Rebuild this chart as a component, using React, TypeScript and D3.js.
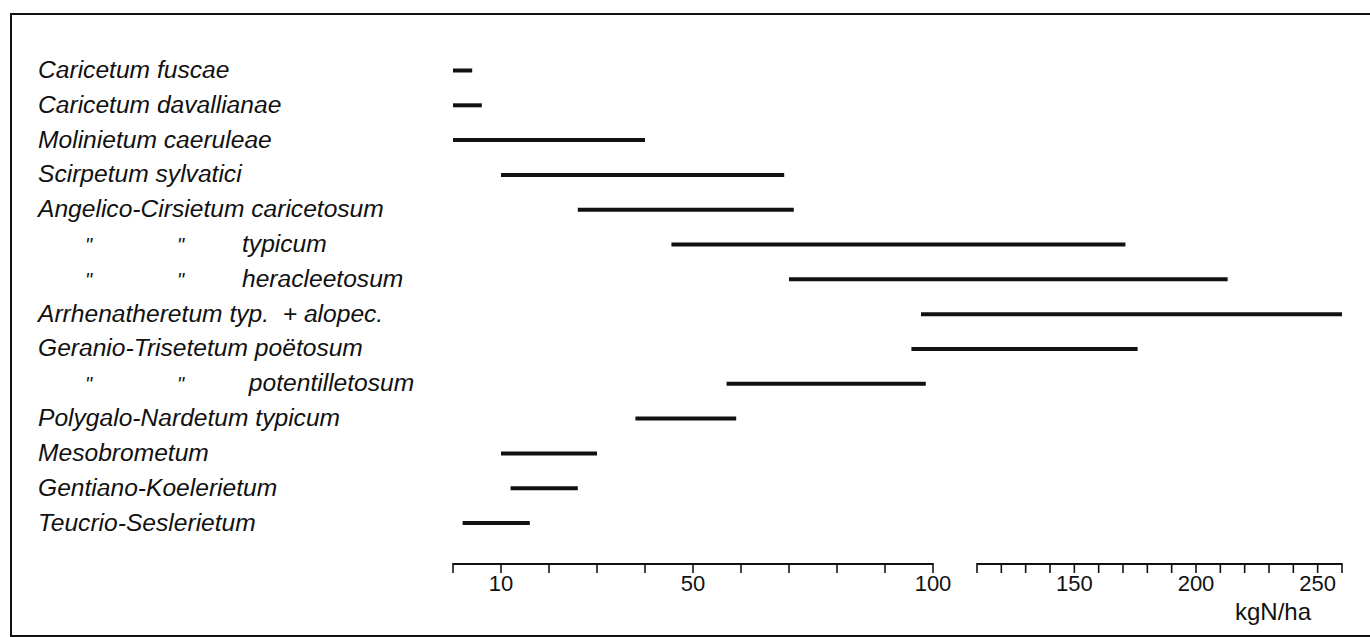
import React from "react";
import * as d3 from "d3";

const communities: string[] = [
  "Caricetum fuscae",
  "Caricetum davallianae",
  "Molinietum caeruleae",
  "Scirpetum sylvatici",
  "Angelico-Cirsietum caricetosum",
  "\"\t\"\ttypicum",
  "\"\t\"\theracleetosum",
  "Arrhenatheretum typ.  + alopec.",
  "Geranio-Trisetetum poëtosum",
  "\"\t\"\t potentilletosum",
  "Polygalo-Nardetum typicum",
  "Mesobrometum",
  "Gentiano-Koelerietum",
  "Teucrio-Seslerietum",
];
const nMin: number[] = [0, 0, 0, 10, 26, 45.5, 70, 97.5, 95.5, 57, 38, 10, 12, 2];
const nMax: number[] = [4, 6, 40, 69, 71, 171, 213, 260, 176, 98.5, 59, 30, 26, 16];

const ticksLow: number[] = [0, 10, 20, 30, 40, 50, 60, 70, 80, 90, 100];
const ticksHigh: number[] = [110, 120, 130, 140, 150, 160, 170, 180, 190, 200, 210, 220, 230, 240, 250, 260];
const tickLabels: number[] = [10, 50, 100, 150, 200, 250];
const unitLabel = "kgN/ha";

export default function App() {
  const W = 1370, H = 637;
  const x = d3.scaleLinear().domain([0, 100, 110, 260]).range([453, 933, 977, 1342]);
  const y = d3.scalePoint<number>().domain(d3.range(communities.length)).range([70.5, 523]);
  const axisY = 564;
  const font = "'Liberation Sans', Arial, sans-serif";
  const partX = [85, 177, 242];

  return (
    <svg width={W} height={H} style={{ position: "absolute", left: 0, top: 0, display: "block", background: "#fff" }}>
      <rect x={0} y={0} width={W} height={H} fill="#fff" />
      {/* frame */}
      <path d={`M${W},14 L11,14 L11,636 L${W},636`} fill="none" stroke="#111" strokeWidth={2} />
      {/* labels */}
      <g fontFamily={font} fontStyle="italic" fontSize={24.6} fill="#111">
        {communities.map((name, i) => {
          const yy = (y(i) as number) + 7.5;
          if (name.includes("\t")) {
            const parts = name.split("\t");
            return (
              <g key={i}>
                {parts.map((p, j) => (
                  <text key={j} x={partX[j]} y={yy} xmlSpace="preserve" style={{ whiteSpace: "pre" }} fontSize={j < 2 ? 20 : 24.6}>
                    {p}
                  </text>
                ))}
              </g>
            );
          }
          return (
            <text key={i} x={38} y={yy} xmlSpace="preserve" style={{ whiteSpace: "pre" }}>
              {name}
            </text>
          );
        })}
      </g>
      {/* range bars */}
      <g stroke="#111" strokeWidth={4}>
        {communities.map((_, i) => (
          <line key={i} x1={x(nMin[i])} x2={x(nMax[i])} y1={y(i)} y2={y(i)} />
        ))}
      </g>
      {/* axis */}
      <g stroke="#111" strokeWidth={2} fill="none">
        <line x1={x(0)} x2={x(100)} y1={axisY} y2={axisY} />
        <line x1={x(110)} x2={x(260)} y1={axisY} y2={axisY} />
        {ticksLow.concat(ticksHigh).map((t) => (
          <line key={t} x1={x(t)} x2={x(t)} y1={axisY - 1} y2={axisY + 9} strokeWidth={1.6} />
        ))}
      </g>
      <g fontFamily={font} fontSize={22} fill="#111" textAnchor="middle">
        {tickLabels.map((t) => (
          <text key={t} x={x(t)} y={591}>
            {t}
          </text>
        ))}
        <text x={1273} y={620} fontSize={24}>
          {unitLabel}
        </text>
      </g>
    </svg>
  );
}
